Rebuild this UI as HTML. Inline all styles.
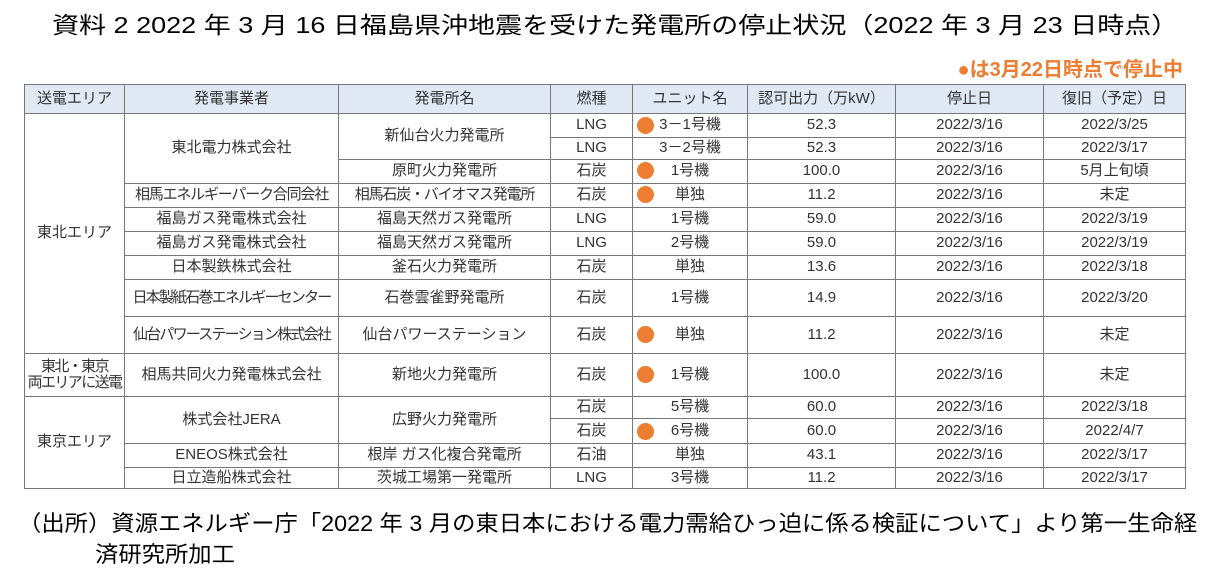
<!DOCTYPE html>
<html><head><meta charset="utf-8">
<style>
body{margin:0;width:1213px;height:573px;background:#fff;position:relative;overflow:hidden;font-family:"Liberation Sans","Noto Sans CJK JP",sans-serif;}
.title{position:absolute;left:52px;top:6px;font-size:23px;white-space:nowrap;transform-origin:0 0;transform:scaleX(1.175);color:#000;}
.leg{position:absolute;right:30px;top:53px;color:#ed7d31;font-size:20px;font-weight:bold;white-space:nowrap;}
table{position:absolute;left:24px;top:84px;border-collapse:collapse;table-layout:fixed;width:1161px;font-size:15px;color:#333;}
td,th{border:1px solid #777;text-align:center;padding:0;white-space:nowrap;overflow:hidden;line-height:1.1;}
th{background:#dfe8f3;font-weight:normal;height:28px;}
.n{letter-spacing:-1.2px;}
.dot{position:absolute;width:17px;height:17px;border-radius:50%;background:#ed7d31;}
.foot{position:absolute;left:18px;top:506px;font-size:22px;white-space:nowrap;transform-origin:0 0;transform:scaleX(1.06);color:#000;}
.foot2{position:absolute;left:95px;top:537px;font-size:22px;white-space:nowrap;transform-origin:0 0;transform:scaleX(1.06);color:#000;}
</style></head><body>
<div class="title">資料 2 2022 年 3 月 16 日福島県沖地震を受けた発電所の停止状況（2022 年 3 月 23 日時点）</div>
<div class="leg">●は3月22日時点で停止中</div>
<table>
<colgroup><col style="width:100px"><col style="width:214px"><col style="width:212px"><col style="width:82px"><col style="width:115px"><col style="width:148px"><col style="width:148px"><col style="width:142px"></colgroup>
<tr><th>送電エリア</th><th>発電事業者</th><th>発電所名</th><th>燃種</th><th>ユニット名</th><th>認可出力（万kW）</th><th>停止日</th><th>復旧（予定）日</th></tr>
<tr style="height:24px"><td rowspan="9">東北エリア</td><td rowspan="3">東北電力株式会社</td><td rowspan="2">新仙台火力発電所</td><td>LNG</td><td>3－1号機</td><td>52.3</td><td>2022/3/16</td><td>2022/3/25</td></tr>
<tr style="height:22px"><td>LNG</td><td>3－2号機</td><td>52.3</td><td>2022/3/16</td><td>2022/3/17</td></tr>
<tr style="height:24px"><td>原町火力発電所</td><td>石炭</td><td>1号機</td><td>100.0</td><td>2022/3/16</td><td>5月上旬頃</td></tr>
<tr style="height:24px"><td class="n">相馬エネルギーパーク合同会社</td><td class="n">相馬石炭・バイオマス発電所</td><td>石炭</td><td>単独</td><td>11.2</td><td>2022/3/16</td><td>未定</td></tr>
<tr style="height:24px"><td>福島ガス発電株式会社</td><td>福島天然ガス発電所</td><td>LNG</td><td>1号機</td><td>59.0</td><td>2022/3/16</td><td>2022/3/19</td></tr>
<tr style="height:24px"><td>福島ガス発電株式会社</td><td>福島天然ガス発電所</td><td>LNG</td><td>2号機</td><td>59.0</td><td>2022/3/16</td><td>2022/3/19</td></tr>
<tr style="height:24px"><td>日本製鉄株式会社</td><td>釜石火力発電所</td><td>石炭</td><td>単独</td><td>13.6</td><td>2022/3/16</td><td>2022/3/18</td></tr>
<tr style="height:37px"><td class="n" style="letter-spacing:-1.8px">日本製紙石巻エネルギーセンター</td><td>石巻雲雀野発電所</td><td>石炭</td><td>1号機</td><td>14.9</td><td>2022/3/16</td><td>2022/3/20</td></tr>
<tr style="height:37px"><td class="n" style="letter-spacing:-1.8px">仙台パワーステーション株式会社</td><td>仙台パワーステーション</td><td>石炭</td><td>単独</td><td>11.2</td><td>2022/3/16</td><td>未定</td></tr>
<tr style="height:43px"><td class="n" style="letter-spacing:-1.6px">東北・東京<br>両エリアに送電</td><td>相馬共同火力発電株式会社</td><td>新地火力発電所</td><td>石炭</td><td>1号機</td><td>100.0</td><td>2022/3/16</td><td>未定</td></tr>
<tr style="height:22px"><td rowspan="4">東京エリア</td><td rowspan="2">株式会社JERA</td><td rowspan="2">広野火力発電所</td><td>石炭</td><td>5号機</td><td>60.0</td><td>2022/3/16</td><td>2022/3/18</td></tr>
<tr style="height:25px"><td>石炭</td><td>6号機</td><td>60.0</td><td>2022/3/16</td><td>2022/4/7</td></tr>
<tr style="height:24px"><td>ENEOS株式会社</td><td>根岸 ガス化複合発電所</td><td>石油</td><td>単独</td><td>43.1</td><td>2022/3/16</td><td>2022/3/17</td></tr>
<tr style="height:21px"><td>日立造船株式会社</td><td>茨城工場第一発電所</td><td>LNG</td><td>3号機</td><td>11.2</td><td>2022/3/16</td><td>2022/3/17</td></tr>
</table>
<div class="dot" style="left:637px;top:117px"></div>
<div class="dot" style="left:637px;top:162px"></div>
<div class="dot" style="left:637px;top:186px"></div>
<div class="dot" style="left:637px;top:326px"></div>
<div class="dot" style="left:637px;top:366px"></div>
<div class="dot" style="left:637px;top:423px"></div>
<div class="foot">（出所）資源エネルギー庁「2022 年 3 月の東日本における電力需給ひっ迫に係る検証について」より第一生命経</div>
<div class="foot2">済研究所加工</div>
</body></html>
